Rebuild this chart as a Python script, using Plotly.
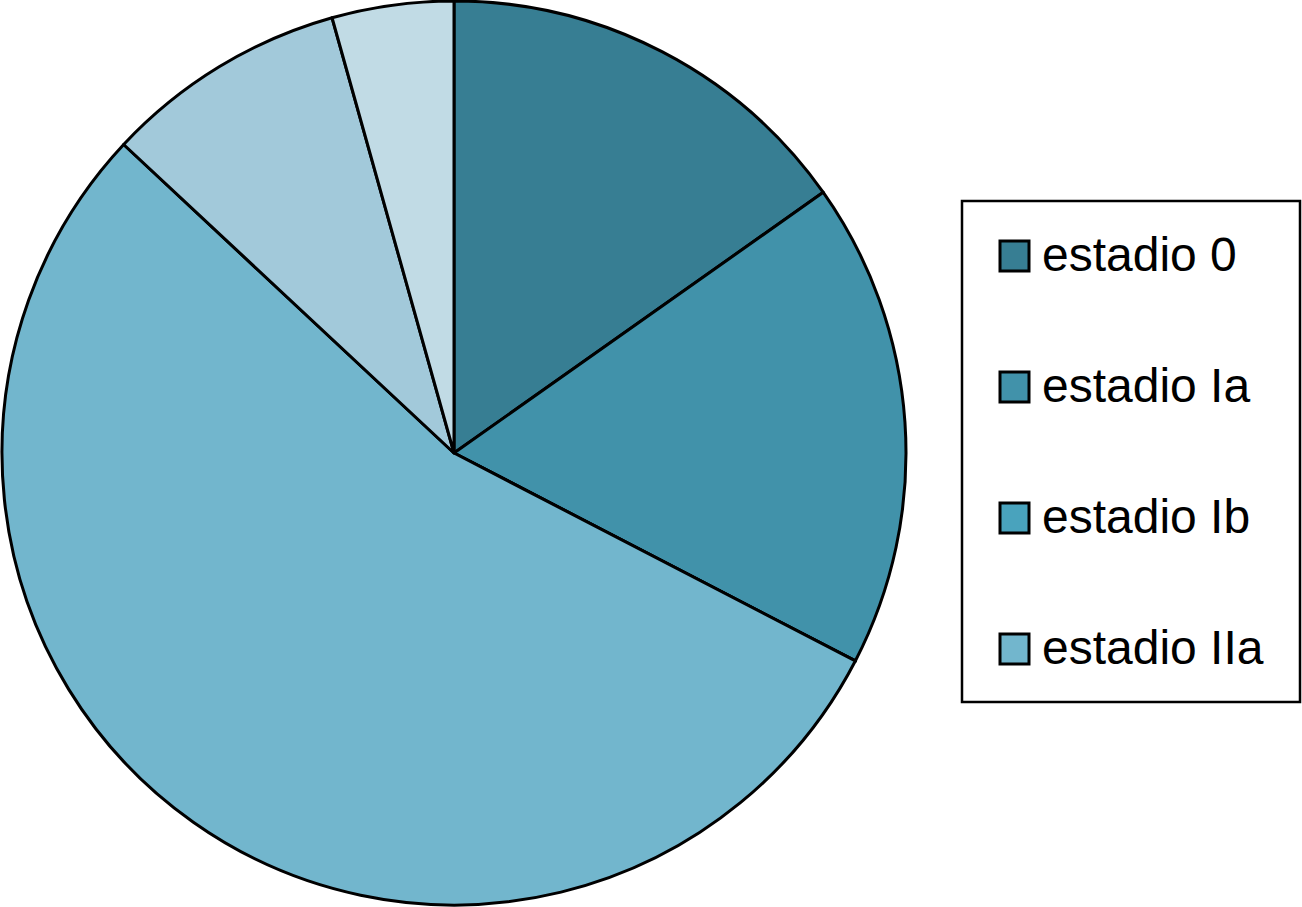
import plotly.graph_objects as go

W, H = 1302, 907

# case counts per stage (slices clockwise from 12 o'clock)
labels = ["estadio 0", "estadio Ia", "estadio Ib", "estadio IIa", "estadio IIb", "estadio III"]
values = [7, 8, 0, 25, 4, 2]
colors = ["#377e93", "#4192aa", "#49a3bd", "#72b6cd", "#a2c9da", "#c1dbe5"]
legend_labels = ["estadio 0", "estadio Ia", "estadio Ib", "estadio IIa"]

FONT = "Liberation Sans, Arial, Helvetica, sans-serif"


def px_x(x):
    return x / W


def px_y(y):
    return 1 - y / H


fig = go.Figure(
    go.Pie(
        labels=labels,
        values=values,
        marker=dict(colors=colors, line=dict(color="black", width=3)),
        sort=False,
        direction="clockwise",
        rotation=0,
        textinfo="none",
        hoverinfo="label+value+percent",
        showlegend=False,
        domain=dict(x=[px_x(2), px_x(906)], y=[px_y(905), px_y(1)]),
    )
)

# hand-drawn legend box to match the large squares of the original
shapes = [
    dict(type="rect", xref="paper", yref="paper",
         x0=px_x(962), x1=px_x(1300), y0=px_y(702), y1=px_y(201),
         line=dict(color="black", width=2.5), fillcolor="white", layer="below"),
]
annotations = []
row_y = [256, 387, 518, 649]
for lab, yc in zip(legend_labels, row_y):
    col = colors[labels.index(lab)]
    shapes.append(dict(type="rect", xref="paper", yref="paper",
                       x0=px_x(1000), x1=px_x(1029), y0=px_y(yc + 15), y1=px_y(yc - 15),
                       line=dict(color="black", width=3), fillcolor=col))
    annotations.append(dict(xref="paper", yref="paper", x=px_x(1040), y=px_y(yc - 2),
                            xanchor="left", yanchor="middle", showarrow=False,
                            text=lab, font=dict(family=FONT, size=48, color="black")))

fig.update_layout(
    width=W,
    height=H,
    margin=dict(t=0, b=0, l=0, r=0),
    paper_bgcolor="white",
    plot_bgcolor="white",
    font=dict(family=FONT, color="black"),
    shapes=shapes,
    annotations=annotations,
)

fig.write_html("out.html", config={"displayModeBar": False},
               post_script="document.body.style.margin='0';")
